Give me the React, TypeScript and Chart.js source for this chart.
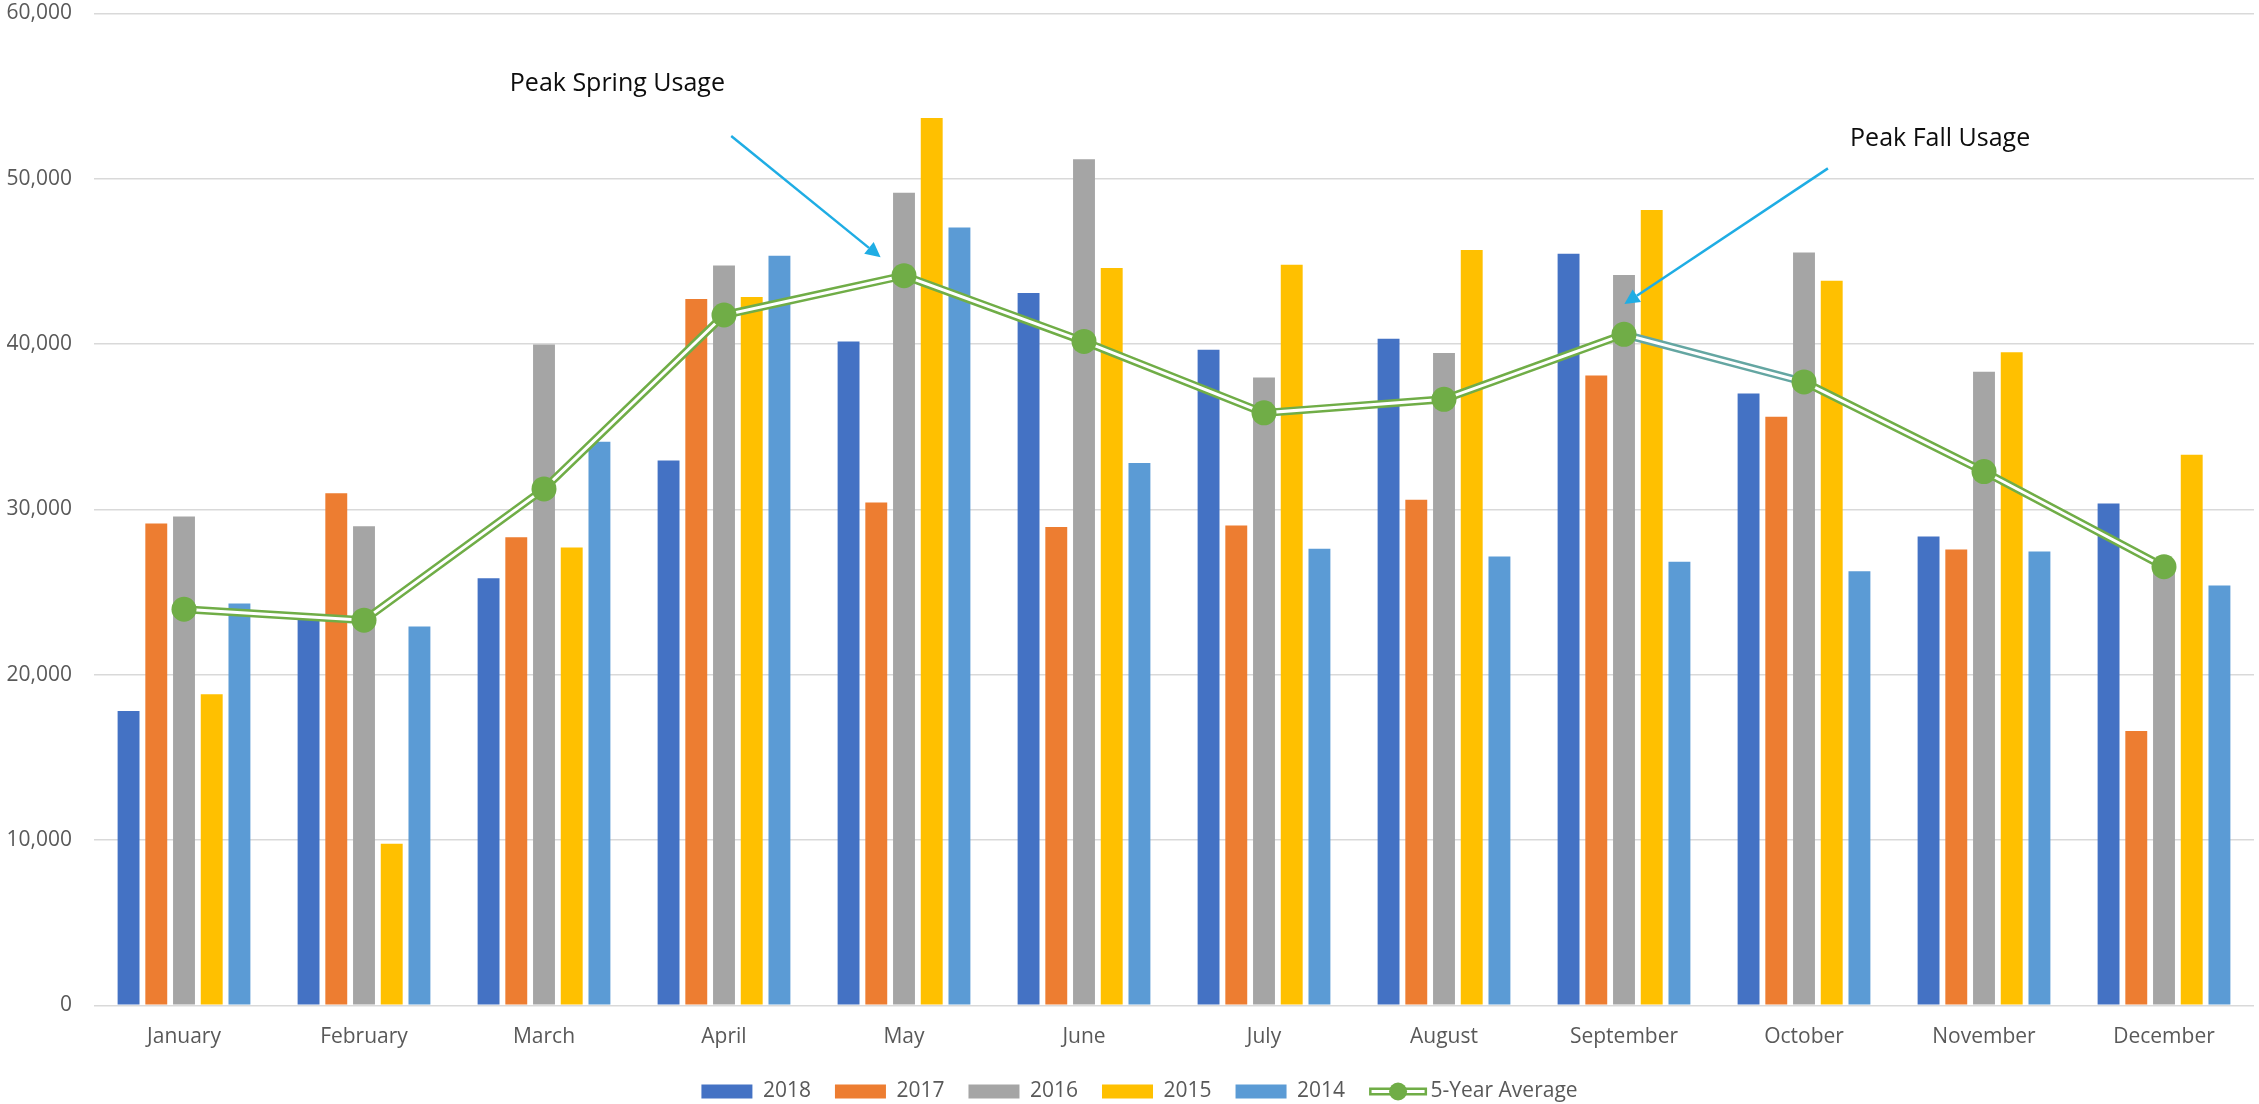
import React, { useEffect, useRef } from "react";
import { Chart, registerables } from "chart.js";

Chart.register(...registerables);

// ---- data ----
const months = [
  "January", "February", "March", "April", "May", "June",
  "July", "August", "September", "October", "November", "December",
];
const seriesNames = ["2018", "2017", "2016", "2015", "2014"];
const values2018 = [17800, 23570, 25830, 32960, 40160, 43090, 39660, 40320, 45460, 37010, 28360, 30350];
const values2017 = [29140, 30970, 28320, 42730, 30420, 28940, 29020, 30580, 38100, 35610, 27580, 16600];
const values2016 = [29570, 28980, 39970, 44760, 49160, 51190, 37980, 39460, 44180, 45540, 38330, 26800];
const values2015 = [18820, 9780, 27700, 42850, 53680, 44600, 44800, 45700, 48110, 43830, 39500, 33310];
const values2014 = [24310, 22910, 34090, 45340, 47060, 32800, 27620, 27150, 26840, 26260, 27460, 25400];
const averageName = "5-Year Average";
const fiveYearAverage = [23960, 23300, 31240, 41760, 44140, 40160, 35840, 36660, 40590, 37710, 32290, 26530];
const yMin = 0;
const yMax = 60000;
const yStep = 10000;

// annotation texts (anchored in data space: [category index, value])
const annotationTexts = ["Peak Spring Usage", "Peak Fall Usage"];

// ---- styles ----
const barColors = ["#4472C4", "#ED7D31", "#A5A5A5", "#FFC000", "#5B9BD5"];
const lineGreen = "#70AD47";
const lineTeal = "#64A6A2";
const arrowColor = "#1FADE4";
const tickColor = "#595959";
const gridColor = "#D9D9D9";
const FONT = "'Open Sans', sans-serif";
const LEGEND_BOX_W = 51;
const LEGEND_LINE_W = 58;
const LEGEND_SHIFT = 9;

const annotationLayout = [
  { textAt: [1.81, 55300], from: [3.04, 52590], to: [3.87, 45250] },
  { textAt: [9.256, 51980], from: [9.133, 50630], to: [8.002, 42420] },
];

const annotationPlugin = {
  id: "peakAnnotations",
  afterDraw(chart: any) {
    const { ctx, scales } = chart;
    const xs = scales.x;
    const ys = scales.y;
    ctx.save();
    annotationLayout.forEach((a, i) => {
      const tx = xs.getPixelForValue(a.textAt[0]);
      const ty = ys.getPixelForValue(a.textAt[1]);
      ctx.fillStyle = "#0D0D0D";
      ctx.font = `25px ${FONT}`;
      ctx.textAlign = "left";
      ctx.textBaseline = "alphabetic";
      ctx.fillText(annotationTexts[i], tx, ty);

      const x0 = xs.getPixelForValue(a.from[0]);
      const y0 = ys.getPixelForValue(a.from[1]);
      const x1 = xs.getPixelForValue(a.to[0]);
      const y1 = ys.getPixelForValue(a.to[1]);
      const ang = Math.atan2(y1 - y0, x1 - x0);
      const headLen = 15;
      const headHalf = 7.5;
      const bx = x1 - headLen * Math.cos(ang);
      const by = y1 - headLen * Math.sin(ang);
      ctx.strokeStyle = arrowColor;
      ctx.lineWidth = 2.5;
      ctx.beginPath();
      ctx.moveTo(x0, y0);
      ctx.lineTo(bx, by);
      ctx.stroke();
      ctx.fillStyle = arrowColor;
      ctx.beginPath();
      ctx.moveTo(x1, y1);
      ctx.lineTo(bx + headHalf * Math.sin(ang), by - headHalf * Math.cos(ang));
      ctx.lineTo(bx - headHalf * Math.sin(ang), by + headHalf * Math.cos(ang));
      ctx.closePath();
      ctx.fill();
    });
    ctx.restore();
  },
};

const legendShiftPlugin = {
  id: "legendShift",
  afterLayout(chart: any) {
    const legend = chart.legend;
    if (!legend) return;
    legend.left += LEGEND_SHIFT;
    legend.right += LEGEND_SHIFT;
  },
};

const legendLinePlugin = {
  id: "legendDoubleLine",
  afterDraw(chart: any) {
    const legend = chart.legend;
    if (!legend || !legend.legendItems) return;
    const idx = legend.legendItems.findIndex((it: any) => it.datasetIndex === 5);
    if (idx < 0) return;
    const hb = legend.legendHitBoxes[idx];
    const cy = hb.top + hb.height / 2;
    const x0 = hb.left;
    const x1 = hb.left + LEGEND_LINE_W;
    const { ctx } = chart;
    ctx.save();
    ctx.lineCap = "butt";
    ctx.strokeStyle = lineGreen;
    ctx.lineWidth = 8;
    ctx.beginPath();
    ctx.moveTo(x0, cy);
    ctx.lineTo(x1, cy);
    ctx.stroke();
    ctx.strokeStyle = "#FFFFFF";
    ctx.lineWidth = 3;
    ctx.beginPath();
    ctx.moveTo(x0 + 2.5, cy);
    ctx.lineTo(x1 - 2.5, cy);
    ctx.stroke();
    ctx.fillStyle = lineGreen;
    ctx.beginPath();
    ctx.arc((x0 + x1) / 2, cy, 9, 0, Math.PI * 2);
    ctx.fill();
    ctx.restore();
  },
};

export default function App() {
  const canvasRef = useRef<HTMLCanvasElement | null>(null);

  useEffect(() => {
    document.body.style.margin = "0";
    const canvas = canvasRef.current;
    if (!canvas) return;

    const barSeries = [values2018, values2017, values2016, values2015, values2014];
    const barDatasets = barSeries.map((vals, i) => ({
      type: "bar" as const,
      label: seriesNames[i],
      data: vals,
      backgroundColor: barColors[i],
      borderWidth: 0,
      categoryPercentage: 0.77,
      barPercentage: 0.79,
      order: 10,
    }));

    const chart = new Chart(canvas, {
      data: {
        labels: months,
        datasets: [
          ...barDatasets,
          {
            type: "line" as const,
            label: averageName,
            data: fiveYearAverage,
            borderColor: lineGreen,
            backgroundColor: lineGreen,
            borderWidth: 8,
            pointRadius: 0,
            pointHoverRadius: 0,
            fill: false,
            tension: 0,
            order: 3,
            segment: {
              borderColor: (c: any) => (c.p0DataIndex === 8 ? lineTeal : undefined),
            },
          } as any,
          {
            type: "line" as const,
            label: averageName + " inner",
            data: fiveYearAverage,
            borderColor: "#FFFFFF",
            borderWidth: 3,
            pointRadius: 12.5,
            pointHoverRadius: 12.5,
            pointBackgroundColor: lineGreen,
            pointBorderWidth: 0,
            fill: false,
            tension: 0,
            order: 2,
          } as any,
        ],
      },
      options: {
        animation: false,
        responsive: true,
        maintainAspectRatio: false,
        layout: { autoPadding: false, padding: { left: 7, right: 5, top: 13.5, bottom: -8 } },
        font: { family: FONT },
        scales: {
          x: {
            grid: { display: false, drawTicks: false },
            border: { display: false },
            ticks: {
              color: tickColor,
              font: { family: FONT, size: 21 },
              padding: 19,
              maxRotation: 0,
              autoSkip: false,
            },
            afterFit: (s: any) => {
              s.height = 51.7;
              s.paddingLeft = 0;
              s.paddingRight = 0;
            },
          },
          y: {
            min: yMin,
            max: yMax,
            grid: { color: gridColor, lineWidth: 1.5, drawTicks: false },
            border: { display: false },
            ticks: {
              stepSize: yStep,
              color: tickColor,
              font: { family: FONT, size: 21 },
              padding: 22,
              callback: (v: any) => Number(v).toLocaleString("en-US"),
            },
            afterFit: (s: any) => {
              s.width = 87;
              s.paddingTop = 0;
              s.paddingBottom = 0;
            },
          },
        },
        plugins: {
          tooltip: { enabled: false },
          legend: {
            position: "bottom",
            labels: {
              color: tickColor,
              font: { family: FONT, size: 21 },
              boxWidth: LEGEND_BOX_W,
              boxHeight: 14,
              padding: 24,
              generateLabels: (ch: any) => {
                const items = (Chart.defaults.plugins.legend.labels as any).generateLabels(ch);
                return items
                  .filter((it: any) => it.datasetIndex !== 6)
                  .sort((a: any, b: any) => a.datasetIndex - b.datasetIndex)
                  .map((it: any) =>
                    it.datasetIndex === 5
                      ? { ...it, fillStyle: "rgba(0,0,0,0)", strokeStyle: "rgba(0,0,0,0)", lineWidth: 0 }
                      : { ...it, lineWidth: 0 }
                  );
              },
            },
          },
        },
      },
      plugins: [legendShiftPlugin, annotationPlugin, legendLinePlugin],
    } as any);

    return () => chart.destroy();
  }, []);

  return (
    <div style={{ position: "fixed", left: 0, top: 0, width: 2259, height: 1104, background: "#fff" }}>
      <canvas ref={canvasRef} />
    </div>
  );
}
